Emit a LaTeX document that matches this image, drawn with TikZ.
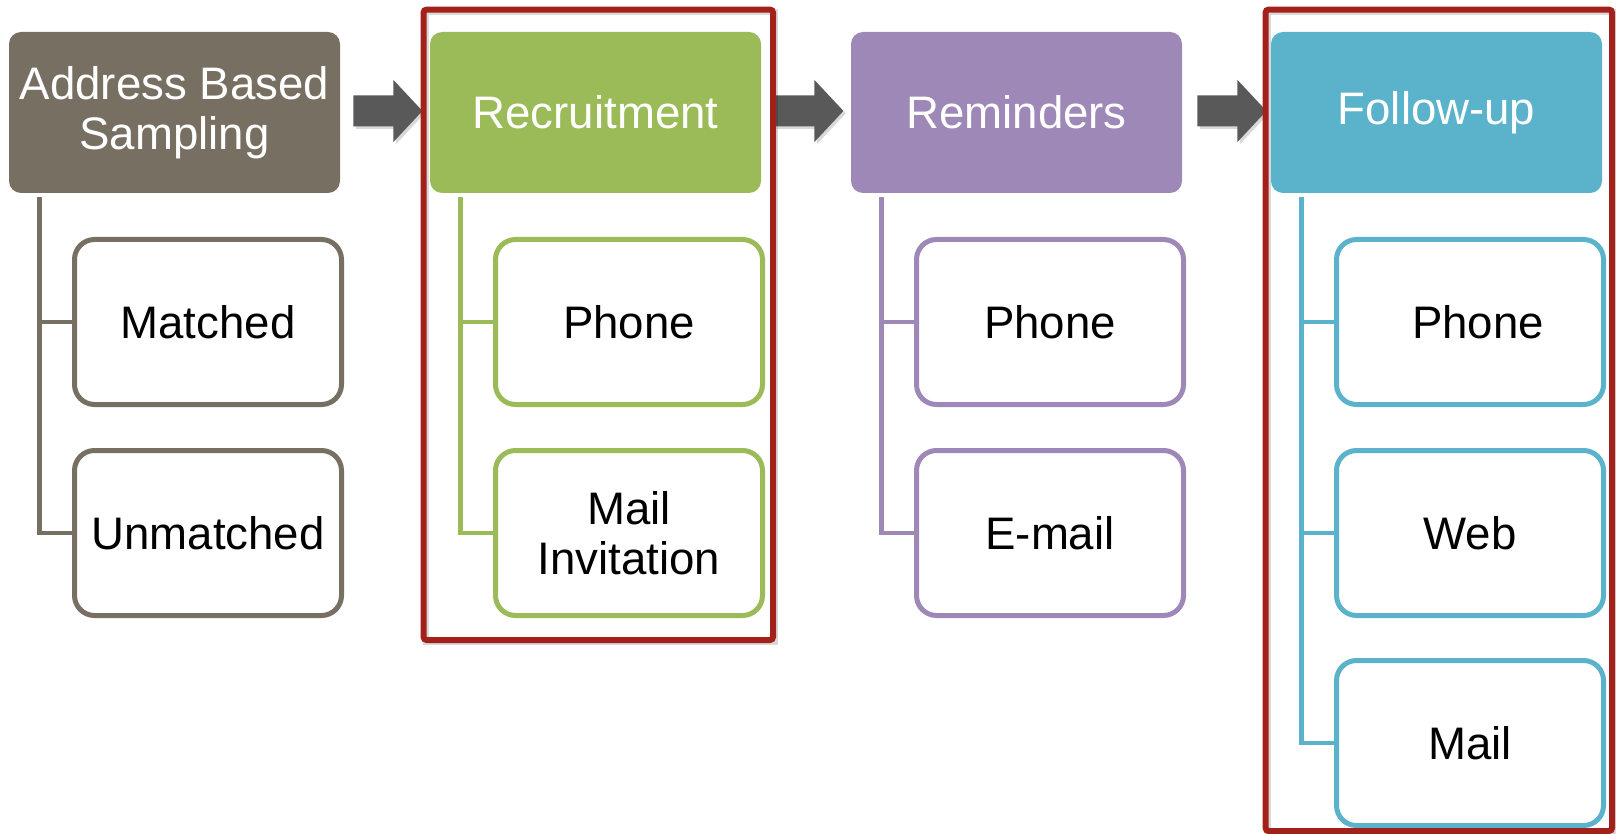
\documentclass[tikz,border=0pt]{standalone}
\usepackage{fontspec}
\setmainfont{Liberation Sans}
\usepackage{tikz}
\usetikzlibrary{calc,shadows}

\definecolor{abscol}{HTML}{786F63}
\definecolor{reccol}{HTML}{9BBB59}
\definecolor{remcol}{HTML}{9E88B8}
\definecolor{folcol}{HTML}{5AB3CB}
\definecolor{arrowgray}{HTML}{595959}
\definecolor{framered}{HTML}{A4201A}

\tikzset{
  stagebox/.style={rounded corners=6pt, minimum width=165.5pt, minimum height=80.5pt,
    text=white, align=center, inner sep=0pt, font=\fontsize{22.8}{25}\selectfont},
  modebox/.style={draw, fill=white, line width=2.5pt, rounded corners=10pt,
    minimum width=133.5pt, minimum height=82.5pt, align=center, inner sep=0pt,
    font=\fontsize{22.8}{25}\selectfont},
  branch/.style={line width=2.2pt},
  blockarrow/.style={fill=arrowgray, drop shadow={shadow xshift=1.2pt, shadow yshift=-1.2pt, opacity=0.3}},
  redframe/.style={draw=framered, line width=3pt, rounded corners=1.5pt},
  frameshadow/.style={draw=black, opacity=0.15, line width=3pt},
}

\begin{document}
\begin{tikzpicture}[x=0.5pt,y=-0.5pt]
        \useasboundingbox (0,0) rectangle (1616,834);
        % stages
        \node[stagebox, fill=abscol] (abs) at (174.5,112.5) {Address Based\\Sampling};
        \node[stagebox, fill=reccol] (rec) at (595.5,112.5) {Recruitment};
        \node[stagebox, fill=remcol] (rem) at (1016.5,112.5) {Reminders};
        \node[stagebox, fill=folcol] (fol) at (1436.5,112.5) {Follow-up};
        % modes
        \node[modebox, draw=abscol] (abs1) at (208,322) {Matched};
        \node[modebox, draw=abscol] (abs2) at (208,533) {Unmatched};
        \node[modebox, draw=reccol] (rec1) at (629,322) {Phone};
        \node[modebox, draw=reccol] (rec2) at (629,533) {Mail\\Invitation};
        \node[modebox, draw=remcol] (rem1) at (1050,322) {Phone};
        \node[modebox, draw=remcol] (rem2) at (1050,533) {E-mail};
        \node[modebox, draw=folcol] (fol1) at (1470,322) {\hspace*{8pt}Phone};
        \node[modebox, draw=folcol] (fol2) at (1470,533) {Web};
        \node[modebox, draw=folcol] (fol3) at (1470,743) {Mail};
        % branches
        \coordinate (absbr) at ([shift={(15.5pt,-2pt)}]abs.south west);
        \coordinate (recbr) at ([shift={(15.5pt,-2pt)}]rec.south west);
        \coordinate (rembr) at ([shift={(15.5pt,-2pt)}]rem.south west);
        \coordinate (folbr) at ([shift={(15.5pt,-2pt)}]fol.south west);
        \draw[branch, abscol] (absbr) |- (abs2.west);
        \draw[branch, abscol] (absbr |- abs1.west) -- (abs1.west);
        \draw[branch, reccol] (recbr) |- (rec2.west);
        \draw[branch, reccol] (recbr |- rec1.west) -- (rec1.west);
        \draw[branch, remcol] (rembr) |- (rem2.west);
        \draw[branch, remcol] (rembr |- rem1.west) -- (rem1.west);
        \draw[branch, folcol] (folbr) |- (fol3.west);
        \draw[branch, folcol] (folbr |- fol1.west) -- (fol1.west);
        \draw[branch, folcol] (folbr |- fol2.west) -- (fol2.west);
        % arrows
        \fill[blockarrow] ($(abs.east)+(13,-17)$) -- ++(40,0) -- ++(0,-15.5) -- ++(29,31) -- ++(-29,31) -- ++(0,-15.5) -- ++(-40,0) -- cycle;
        \fill[blockarrow] ($(rec.east)+(13,-17)$) -- ++(40,0) -- ++(0,-15.5) -- ++(29,31) -- ++(-29,31) -- ++(0,-15.5) -- ++(-40,0) -- cycle;
        \fill[blockarrow] ($(rem.east)+(15,-17)$) -- ++(40,0) -- ++(0,-15.5) -- ++(29,31) -- ++(-29,31) -- ++(0,-15.5) -- ++(-40,0) -- cycle;
        % red frames
        \draw[frameshadow] ([shift={(-4,-20)}]rec.north west) rectangle ([shift={(10,24)}]rec2.south east);
        \draw[redframe] ([shift={(-6,-22)}]rec.north west) rectangle ([shift={(8,22)}]rec2.south east);
        \draw[frameshadow] ([shift={(-3,-20)}]fol.north west) rectangle ([shift={(8,6)}]fol3.south east);
        \draw[redframe] ([shift={(-5,-22)}]fol.north west) rectangle ([shift={(6,3)}]fol3.south east);
\end{tikzpicture}
\end{document}
